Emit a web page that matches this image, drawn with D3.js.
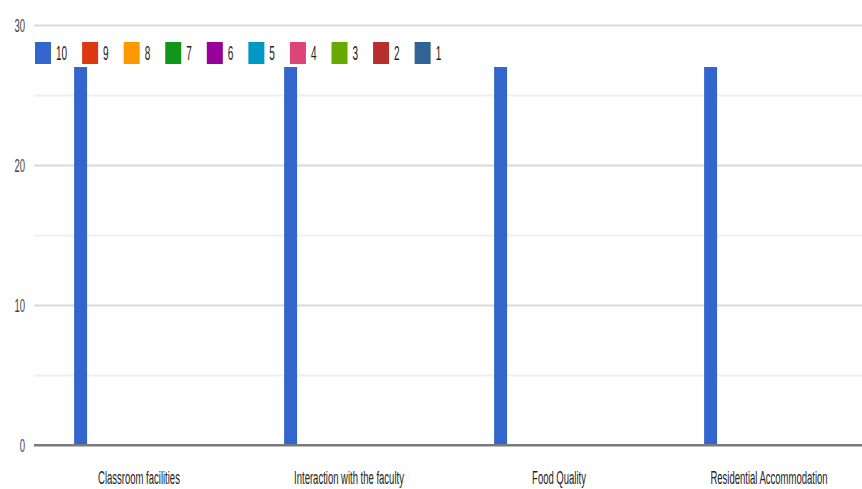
<!DOCTYPE html>
<html>
<head>
<meta charset="utf-8">
<script src="https://cdn.jsdelivr.net/npm/d3@7"></script>
<style>
  html, body { margin: 0; padding: 0; background: #fff; }
  svg { display: block; font-family: "Liberation Sans", Arial, sans-serif; }
</style>
</head>
<body>
<svg id="chart" width="862" height="489"></svg>
<script>
// Survey ratings per facility: count of responses for each score 10..1
const categories = ["Classroom facilities", "Interaction with the faculty", "Food Quality", "Residential Accommodation"];
const seriesNames = ["10", "9", "8", "7", "6", "5", "4", "3", "2", "1"];
const seriesColors = ["#3366cc", "#dc3912", "#ff9900", "#109618", "#990099", "#0099c6", "#dd4477", "#66aa00", "#b82e2e", "#316395"];
const score10 = [27, 27, 27, 27];
const score9 = [0, 0, 0, 0];
const score8 = [0, 0, 0, 0];
const score7 = [0, 0, 0, 0];
const score6 = [0, 0, 0, 0];
const score5 = [0, 0, 0, 0];
const score4 = [0, 0, 0, 0];
const score3 = [0, 0, 0, 0];
const score2 = [0, 0, 0, 0];
const score1 = [0, 0, 0, 0];
const yTicks = [0, 10, 20, 30];
const yGrid = [0, 5, 10, 15, 20, 25, 30];

const seriesValues = [score10, score9, score8, score7, score6, score5, score4, score3, score2, score1];

const svg = d3.select("#chart");
const plot = { left: 34, right: 874, top: 25, bottom: 445 };
const SX = 0.5; // horizontal squeeze of the label text

const x0 = d3.scaleBand().domain(categories).range([plot.left, plot.right]).paddingInner(0).paddingOuter(0);
const groupW = x0.bandwidth() * 0.618;
const x1 = d3.scaleBand().domain(seriesNames).range([0, groupW]).padding(0);
const y = d3.scaleLinear().domain([0, 30]).range([plot.bottom, plot.top]);

// gridlines
const grid = svg.append("g").attr("transform", `translate(${plot.left},0)`)
  .call(d3.axisLeft(y).tickValues(yGrid).tickSize(-(plot.right - plot.left)).tickFormat(""));
grid.select(".domain").remove();
grid.selectAll(".tick line")
  .attr("stroke", d => d === 0 ? "#7a7a7a" : (d % 10 === 0 ? "#d9d9d9" : "#efefef"))
  .attr("stroke-width", 2);

// bars
const rows = categories.map((c, i) => ({ cat: c, vals: seriesNames.map((s, j) => ({ s, v: seriesValues[j][i], color: seriesColors[j] })) }));
const groups = svg.append("g").selectAll("g").data(rows).join("g")
  .attr("transform", d => `translate(${x0(d.cat) + (x0.bandwidth() - groupW) / 2},0)`);
groups.selectAll("rect").data(d => d.vals).join("rect")
  .attr("x", d => x1(d.s))
  .attr("width", x1.bandwidth())
  .attr("y", d => y(d.v))
  .attr("height", d => y(0) - y(d.v))
  .attr("fill", d => d.color);

// zero baseline drawn above the bars
svg.append("line")
  .attr("x1", plot.left).attr("x2", plot.right)
  .attr("y1", y(0)).attr("y2", y(0))
  .attr("stroke", "#7a7a7a").attr("stroke-width", 2);

// y axis labels
const yAxis = svg.append("g").attr("transform", `translate(${plot.left},0)`)
  .call(d3.axisLeft(y).tickValues(yTicks).tickSize(0).tickFormat(d3.format("d")));
yAxis.select(".domain").remove();
yAxis.selectAll(".tick text")
  .attr("x", -9 / SX)
  .attr("transform", `scale(${SX},1)`)
  .attr("font-size", 19)
  .attr("font-family", "Liberation Sans, Arial, sans-serif")
  .attr("fill", "#444");

// x axis labels
const xAxis = svg.append("g").attr("transform", `translate(0,${plot.bottom})`)
  .call(d3.axisBottom(x0).tickSize(0));
xAxis.select(".domain").remove();
xAxis.selectAll(".tick text")
  .attr("y", 0)
  .attr("dy", "2.05em")
  .attr("transform", `scale(${SX},1)`)
  .attr("font-size", 19)
  .attr("font-family", "Liberation Sans, Arial, sans-serif")
  .attr("fill", "#222");

// legend
const legend = svg.append("g");
let lx = 35;
seriesNames.forEach((name, i) => {
  const g = legend.append("g").attr("transform", `translate(${lx},0)`);
  g.append("rect").attr("x", 0).attr("y", 42).attr("width", 16).attr("height", 22).attr("fill", seriesColors[i]);
  const t = g.append("text")
    .attr("x", 21 / SX).attr("y", 60)
    .attr("transform", `scale(${SX},1)`)
    .attr("font-size", 20)
    .attr("fill", "#222")
    .text(name);
  const w = t.node().getComputedTextLength() * SX;
  lx += 21 + w + 15;
});
</script>
</body>
</html>
